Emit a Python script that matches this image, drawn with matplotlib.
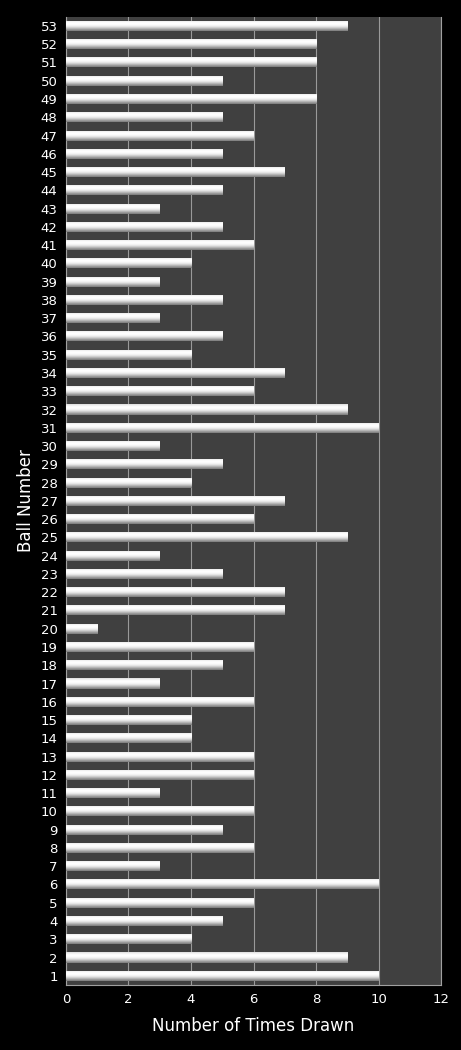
import matplotlib.pyplot as plt
import numpy as np

balls = list(range(1, 54))
counts = [10, 9, 4, 5, 6, 10, 3, 6, 5, 6,
          3, 6, 6, 4, 4, 6, 3, 5, 6, 1,
          7, 7, 5, 3, 9, 6, 7, 4, 5, 3,
          10, 9, 6, 7, 4, 5, 3, 5, 3, 4,
          6, 5, 3, 5, 7, 5, 6, 5, 8, 5,
          8, 8, 9]

fig = plt.figure(figsize=(4.61, 10.5), dpi=100, facecolor='black')
ax = fig.add_axes([0.143, 0.062, 0.814, 0.922])
ax.set_facecolor('#404040')

bars = ax.barh(balls, counts, height=0.55, color='white', zorder=3)

# cylinder-like shading on each bar (bottom -> top)
grad = np.array([0.5, 0.62, 0.74, 0.85, 0.93, 0.98, 1.0, 1.0, 0.96, 0.88]).reshape(-1, 1)
for b in bars:
    x0, y0 = b.get_x(), b.get_y()
    w, h = b.get_width(), b.get_height()
    im = ax.imshow(grad, cmap='gray', vmin=0, vmax=1, aspect='auto',
                   extent=[x0, x0 + w, y0, y0 + h], origin='lower',
                   interpolation='bicubic', zorder=4)
    im.set_clip_path(b)

ax.set_xlim(0, 12)
ax.set_ylim(0.5, 53.5)
ax.set_xticks(range(0, 13, 2))
ax.set_yticks(balls)
ax.grid(axis='x', color='#9a9a9a', linewidth=0.8, zorder=1)
ax.tick_params(colors='white', labelsize=9.5, length=0, pad=6)
for s in ax.spines.values():
    s.set_color('#a0a0a0')
ax.spines['top'].set_visible(False)

ax.set_xlabel('Number of Times Drawn', color='white', fontsize=12, labelpad=8)
ax.set_ylabel('Ball Number', color='white', fontsize=12, labelpad=4)

fig.savefig('out.png', dpi=100, facecolor='black')
